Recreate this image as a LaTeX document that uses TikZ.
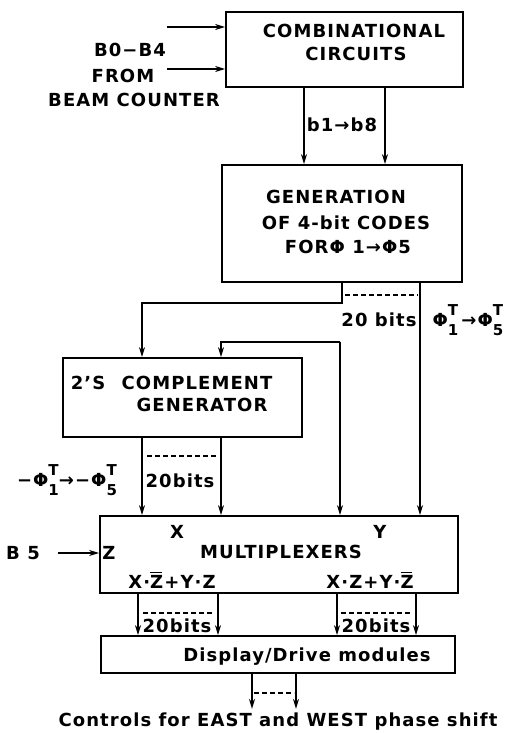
\documentclass[tikz,border=0pt]{standalone}
\usepackage{fontspec}
\setmainfont{DejaVu Sans}[LetterSpace=6]
\usetikzlibrary{arrows.meta, positioning}
\newcommand{\barZ}{\rlap{\rule[0.86em]{0.64em}{1.3pt}}Z}
\newcommand{\smallidx}[1]{{\fontsize{15}{15}\selectfont #1}}
\newcommand{\phiT}[1]{Φ\rlap{\raisebox{0.62em}{\smallidx{T}}}\raisebox{-0.5em}{\smallidx{#1}}}

\begin{document}
\begin{tikzpicture}[
    x=1pt, y=-1pt,
    box/.style={rectangle, draw=black, line width=1.8pt, inner sep=0pt},
    arr/.style={-{Stealth[length=10pt, width=6pt]}, line width=1.6pt},
    tick/.style={line width=1.3pt, dash pattern=on 5pt off 3pt},
    lbl/.style={font=\fontsize{18}{20}\selectfont\bfseries, inner sep=0pt}
  ]
  \useasboundingbox (0,0) rectangle (512,733);

  % ── Boxes ─────────────────────────────────────────────────────
  \node[box, minimum width=237pt, minimum height=75pt]  (comb) at (344.5,49.5) {};
  \node[box, minimum width=240pt, minimum height=117pt] (gen)  at (342,223.5) {};
  \node[box, minimum width=239pt, minimum height=79pt]  (comp) at (182.5,397.5) {};
  \node[box, minimum width=358pt, minimum height=77pt]  (mux)  at (279,554.5) {};
  \node[box, minimum width=354pt, minimum height=37pt]  (disp) at (278,654.5) {};

  % ── Box texts ─────────────────────────────────────────────────
  \node[lbl] (combA) at (354,31) {COMBINATIONAL};
  \node[lbl] (combB) at (356,54) {CIRCUITS};
  \node[lbl] (genA)  at (336,197) {GENERATION};
  \node[lbl] (genB)  at (346,223) {OF 4-bit CODES};
  \node[lbl] (genC)  at (348,247) {FORΦ 1→Φ5};
  \node[lbl] (compA) at (88,383)  {2'S};
  \node[lbl] (compB) at (197,383) {COMPLEMENT};
  \node[lbl] (compC) at (202,405) {GENERATOR};
  \node[lbl] (muxX)  at (177,532) {X};
  \node[lbl] (muxY)  at (380,532) {Y};
  \node[lbl] (muxZ)  at (109,553) {Z};
  \node[lbl] (muxA)  at (281,552) {MULTIPLEXERS};
  \node[lbl] (muxL)  at (172,580) {X·\barZ+Y·Z};
  \node[lbl] (muxR)  at (370,580) {X·Z+Y·\barZ};
  \node[lbl] (dispA) at (307,657) {Display/Drive modules};

  % ── Bus positions ─────────────────────────────────────────────
  \coordinate (bl)  at (304,0);
  \coordinate (br)  at (385,0);
  \coordinate (gx)  at (342,0);
  \coordinate (phx) at (420,0);
  \coordinate (cx1) at (142,0);
  \coordinate (cx2) at (221,0);
  \coordinate (fb)  at (340,342);
  \coordinate (mo1) at (138,0);
  \coordinate (mo2) at (218,0);
  \coordinate (mo3) at (337,0);
  \coordinate (mo4) at (416,0);
  \coordinate (do1) at (252,0);
  \coordinate (do2) at (296,0);

  % ── Inputs ────────────────────────────────────────────────────
  \coordinate (inA) at (167,27);
  \coordinate (inB) at (167,69);
  \coordinate (inZ) at (58,553);
  \draw[arr] (inA) -- (comb.west |- inA);
  \draw[arr] (inB) -- (comb.west |- inB);
  \node[lbl] (beamA) at (130,50)  {B0−B4};
  \node[lbl] (beamB) at (123,76)  {FROM};
  \node[lbl] (beamC) at (134,100) {BEAM COUNTER};
  \draw[arr] (inZ) -- (mux.west |- inZ);
  \node[lbl] (bfive) at (23,553) {B 5};

  % ── Combinational -> generation ───────────────────────────────
  \draw[arr] (comb.south -| bl) -- (gen.north -| bl);
  \draw[arr] (comb.south -| br) -- (gen.north -| br);
  \node[lbl] (bcode) at (342,125) {b1→b8};

  % ── Generation -> complement / multiplexers ───────────────────
  \draw[arr] (gen.south -| gx) -- ++(0,20) -| (comp.north -| cx1);
  \draw[arr] (gen.south -| phx) -- (mux.north -| phx);
  \draw[tick] (345,295) -- (418,295);
  \node[lbl] (gbits) at (379,320) {20 bits};
  \node[lbl] (gphi)  at (468,320) {\phiT{1}\,→\phiT{5}};

  \draw[arr] (fb) -| (comp.north -| cx2);
  \draw[arr] (fb) -- (mux.north -| fb);

  % ── Complement -> multiplexers ────────────────────────────────
  \draw[arr] (comp.south -| cx1) -- (mux.north -| cx1);
  \draw[arr] (comp.south -| cx2) -- (mux.north -| cx2);
  \draw[tick] (147,456) -- (217,456);
  \node[lbl] (cbits) at (180,481) {20bits};
  \node[lbl] (cphi)  at (67,480)  {−\phiT{1}→−\phiT{5}};

  % ── Multiplexers -> display ───────────────────────────────────
  \draw[arr] (mux.south -| mo1) -- (disp.north -| mo1);
  \draw[arr] (mux.south -| mo2) -- (disp.north -| mo2);
  \draw[arr] (mux.south -| mo3) -- (disp.north -| mo3);
  \draw[arr] (mux.south -| mo4) -- (disp.north -| mo4);
  \draw[tick] (143,613) -- (213,613);
  \draw[tick] (341,613) -- (412,613);
  \node[lbl] (mbitsA) at (177,626) {20bits};
  \node[lbl] (mbitsB) at (376,626) {20bits};

  % ── Display outputs ───────────────────────────────────────────
  \draw[arr] (disp.south -| do1) -- ++(0,35);
  \draw[arr] (disp.south -| do2) -- ++(0,35);
  \draw[tick] (254,693) -- (294,693);
  \node[lbl] (ctrl) at (278,722) {Controls for EAST and WEST phase shift};

\end{tikzpicture}
\end{document}
